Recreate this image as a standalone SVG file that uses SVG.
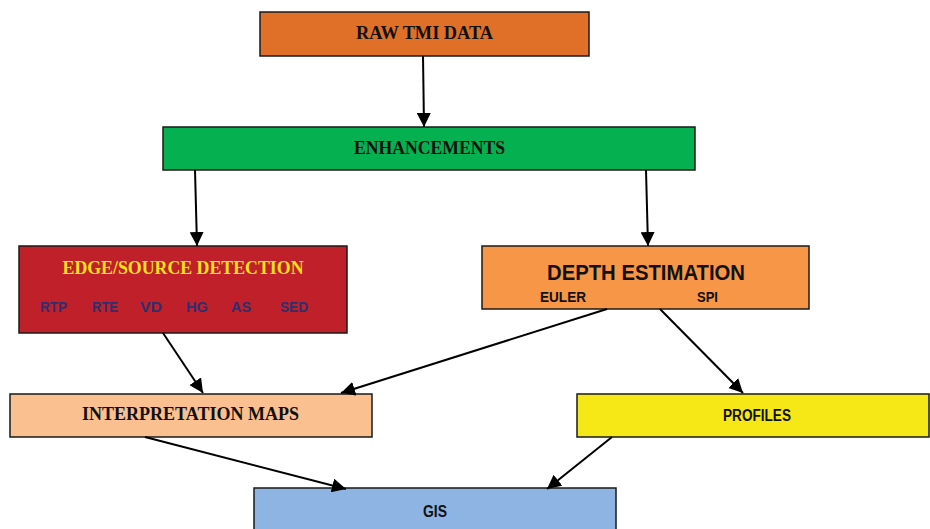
<svg xmlns="http://www.w3.org/2000/svg" width="930" height="529" viewBox="0 0 930 529">
<style>
.box{stroke:#1a1a1a;stroke-width:1.5}
.serif{font-family:"Liberation Serif","Times New Roman",serif;font-weight:bold;text-anchor:middle;dominant-baseline:central}
.sans{font-family:"Liberation Sans",Arial,sans-serif;font-weight:bold;text-anchor:middle;dominant-baseline:central}
.conn line{stroke:#000;stroke-width:2;marker-end:url(#ah)}
</style>
<defs>
<marker id="ah" viewBox="0 0 10 10" refX="10" refY="5" markerWidth="7" markerHeight="7" markerUnits="strokeWidth" orient="auto">
<path d="M0,0 L10,5 L0,10 z" fill="#000"/>
</marker>
</defs>
<rect width="930" height="529" fill="#fff"/>
<g id="raw">
<rect class="box" x="260" y="12" width="329" height="44" fill="#e07028"/>
<text class="serif" x="424.5" y="33" font-size="18" fill="#111" textLength="137" lengthAdjust="spacingAndGlyphs">RAW TMI DATA</text>
</g>
<g id="enh">
<rect class="box" x="163" y="127" width="532" height="43" fill="#05b050"/>
<text class="serif" x="429.5" y="148" font-size="18" fill="#111" textLength="151" lengthAdjust="spacingAndGlyphs">ENHANCEMENTS</text>
</g>
<g id="edge">
<rect class="box" x="19" y="246" width="328" height="87" fill="#c0202a"/>
<text class="serif" x="183" y="268" font-size="18" fill="#f5e11b" textLength="241" lengthAdjust="spacingAndGlyphs">EDGE/SOURCE DETECTION</text>
<g class="sans" font-size="15" fill="#2e2f6e">
<text x="53.5" y="306" textLength="27" lengthAdjust="spacingAndGlyphs">RTP</text>
<text x="105" y="306" textLength="26" lengthAdjust="spacingAndGlyphs">RTE</text>
<text x="151" y="306" textLength="22" lengthAdjust="spacingAndGlyphs">VD</text>
<text x="197" y="306" textLength="22" lengthAdjust="spacingAndGlyphs">HG</text>
<text x="241" y="306" textLength="20" lengthAdjust="spacingAndGlyphs">AS</text>
<text x="294" y="306" textLength="28" lengthAdjust="spacingAndGlyphs">SED</text>
</g>
</g>
<g id="depth">
<rect class="box" x="482" y="246" width="327" height="63" fill="#f79646"/>
<text class="sans" x="646" y="272" font-size="22" fill="#111" textLength="198" lengthAdjust="spacingAndGlyphs">DEPTH ESTIMATION</text>
<text class="sans" x="563" y="296" font-size="15" fill="#111" textLength="46" lengthAdjust="spacingAndGlyphs">EULER</text>
<text class="sans" x="707.5" y="296" font-size="15" fill="#111" textLength="21" lengthAdjust="spacingAndGlyphs">SPI</text>
</g>
<g id="interp">
<rect class="box" x="10" y="394" width="362" height="43" fill="#fac090"/>
<text class="serif" x="190.5" y="414" font-size="18" fill="#111" textLength="217" lengthAdjust="spacingAndGlyphs">INTERPRETATION MAPS</text>
</g>
<g id="profiles">
<rect class="box" x="577" y="394" width="352" height="43" fill="#f5e816"/>
<text class="sans" x="757" y="415" font-size="16" fill="#111" textLength="68" lengthAdjust="spacingAndGlyphs">PROFILES</text>
</g>
<g id="gis">
<rect class="box" x="254" y="488" width="362" height="50" fill="#8eb4e3"/>
<text class="sans" x="435" y="511" font-size="16" fill="#111" textLength="24" lengthAdjust="spacingAndGlyphs">GIS</text>
</g>
<g class="conn" id="connectors">
<line x1="423" y1="56" x2="424" y2="127"/>
<line x1="195" y1="170" x2="197" y2="246"/>
<line x1="646" y1="170" x2="648" y2="246"/>
<line x1="163" y1="333" x2="203" y2="393"/>
<line x1="607" y1="309" x2="341" y2="393"/>
<line x1="660" y1="309" x2="743" y2="393"/>
<line x1="145" y1="437" x2="346" y2="489"/>
<line x1="612" y1="437" x2="547" y2="489"/>
</g>
</svg>
